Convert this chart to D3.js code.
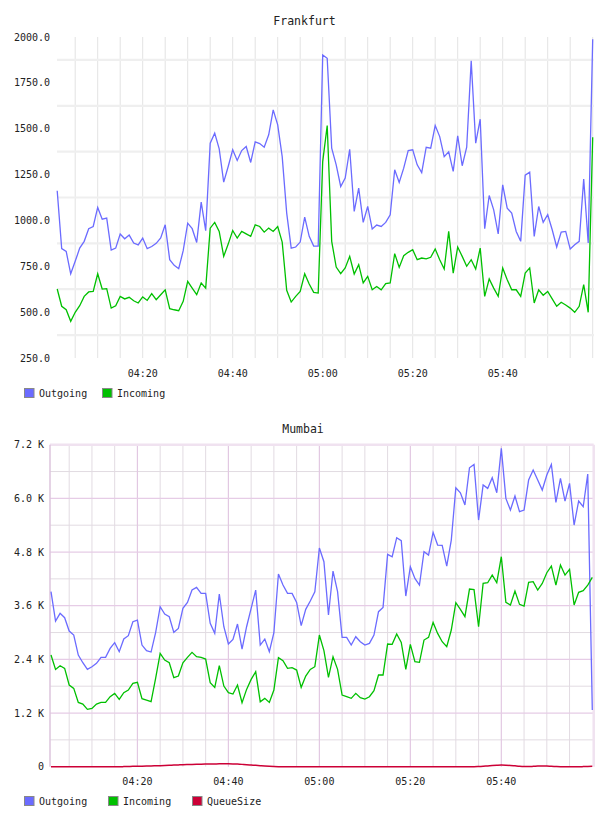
<!DOCTYPE html>
<html><head><meta charset="utf-8">
<script src="https://cdn.jsdelivr.net/npm/d3@7"></script>
<style>body{margin:0;background:#fff}svg{display:block}text{font-family:"DejaVu Sans Mono",monospace}</style>
</head><body>
<svg id="c" width="608" height="816"></svg>
<script>
// minutes after 04:00 (04:01 ... 06:00)
const minutes = d3.range(1, 121);
const timeTicks = [20, 40, 60, 80, 100];
const timeTickLabels = ["04:20", "04:40", "05:00", "05:20", "05:40"];

const fraOutgoing = [1162,846,831,709,777,849,886,955,967,1071,1007,1013,838,849,926,900,920,877,867,904,
 846,858,875,904,976,786,755,737,835,985,955,880,1100,944,1421,1476,1390,1209,1294,1385,
 1327,1381,1403,1316,1428,1419,1399,1467,1603,1521,1348,1040,849,855,882,1018,913,860,860,1902,
 1884,1394,1303,1185,1231,1388,1049,1176,989,1076,953,975,967,989,1031,1276,1207,1285,1381,1385,
 1303,1261,1399,1394,1517,1457,1348,1374,1267,1461,1298,1399,1870,1421,1552,955,1136,1058,927,1194,
 1067,1040,940,886,1247,1263,913,1076,989,1031,949,855,936,940,844,867,886,1225,877,1988];
const fraIncoming = [626,532,513,450,499,535,586,610,613,709,626,628,522,535,586,572,581,562,550,583,
 564,601,568,595,622,519,513,508,559,668,631,595,659,631,958,989,940,804,871,945,
 904,940,927,913,976,967,936,958,940,967,882,619,555,586,613,709,653,608,604,1321,
 1517,886,746,710,741,804,708,759,659,695,622,640,622,655,659,819,744,808,826,840,
 786,795,790,799,844,786,735,940,713,855,804,750,786,735,849,586,681,631,586,741,
 677,622,622,586,713,741,550,622,592,613,572,532,554,539,522,499,532,650,499,1454];
const fraYTicks = [250, 500, 750, 1000, 1250, 1500, 1750, 2000];

const mumOutgoing = [3913,3257,3428,3332,3033,2944,2497,2325,2176,2236,2310,2445,2445,2646,2773,2571,2855,2929,3242,3279,
 2720,2594,2564,2996,3577,3413,3354,3004,3093,3540,3674,3950,4010,3875,3875,3205,2981,3861,3130,2743,
 2847,3190,2631,3130,3540,3950,2720,2855,2571,2996,4308,4062,3875,3875,3674,3153,3518,3704,3913,4890,
 4584,3391,4375,3913,2892,2892,2720,2907,2795,2720,2758,2944,3466,3563,4748,4695,5120,5053,3816,4472,
 4211,4062,4807,4733,5239,4956,4949,4487,5068,6238,6126,5851,6685,6760,5515,6298,6223,6462,6126,7118,
 6000,5739,6052,5702,5739,6410,6633,6410,6186,6521,6760,5911,6447,5940,6335,5404,5940,5813,6544,1267];
const mumIncoming = [2497,2176,2258,2199,1826,1751,1438,1401,1282,1304,1401,1438,1438,1565,1640,1506,1655,1714,1863,1886,
 1520,1491,1453,1975,2534,2385,2325,1990,2027,2325,2445,2556,2459,2445,2407,1878,1774,2258,1803,1655,
 1625,1826,1431,1729,1952,2124,1453,1528,1438,1714,2437,2370,2199,2214,2161,1774,2027,2176,2236,2944,
 2594,1997,2459,2176,1602,1565,1528,1640,1543,1513,1565,1699,2050,2050,2743,2735,2966,2780,2176,2735,
 2348,2333,2832,2892,3227,2981,2795,2683,3056,3667,3518,3354,3972,3958,3130,4099,4114,4285,4114,4695,
 3674,3615,3928,3630,3592,4122,4136,3950,4099,4338,4487,4062,4509,4285,4412,3615,3898,3935,4062,4233];
const mumQueue = [0,0,0,0,0,0,0,0,0,0,0,0,0,0,0,0,2,5,8,10,
 12,15,18,20,24,28,32,36,40,44,47,50,53,56,58,60,62,64,65,64,
 62,58,52,46,38,30,22,15,9,4,1,0,0,0,0,0,0,0,0,0,
 0,0,0,0,0,0,0,0,0,0,0,0,0,0,0,0,0,0,0,0,
 0,0,0,0,0,0,0,0,0,0,0,0,0,0,4,10,18,26,32,36,
 34,28,20,12,6,4,8,14,16,14,8,3,0,0,0,0,0,2,5,8];
const mumYTicks = [0, 1200, 2400, 3600, 4800, 6000, 7200];

const C_OUT = "#6b6bff", C_IN = "#00c000", C_Q = "#cc0036";
const svg = d3.select("#c");

// ---------- Frankfurt ----------
(function(){
  const g = svg.append("g");
  const x = d3.scaleLinear().domain([1,120]).range([57.2,592.7]);
  const y = d3.scaleLinear().domain([250,2000]).range([358,37]);
  g.append("text").attr("x",304.5).attr("y",25).attr("text-anchor","middle")
    .attr("font-size","11.5px").attr("fill","#222").text("Frankfurt");
  // vertical grid every 5 min
  const vg = d3.range(5,121,5);
  g.selectAll(".vg").data(vg).join("line")
    .attr("x1",d=>x(d)).attr("x2",d=>x(d)).attr("y1",37).attr("y2",358)
    .attr("stroke","#e3e3e3").attr("stroke-width",1);
  // horizontal grid at midpoints
  const hg = fraYTicks.slice(0,-1).map(v=>v+125);
  g.selectAll(".hg").data(hg).join("line")
    .attr("x1",57).attr("x2",594).attr("y1",d=>y(d)).attr("y2",d=>y(d))
    .attr("stroke","#efefef").attr("stroke-width",2.2);
  // y labels
  g.selectAll(".yl").data(fraYTicks).join("text")
    .attr("x",50).attr("y",d=>y(d)).attr("dy","0.35em").attr("text-anchor","end")
    .attr("font-size","10px").attr("fill","#222").text(d=>d3.format(".1f")(d));
  g.selectAll(".xl").data(timeTicks).join("text")
    .attr("x",d=>x(d)).attr("y",377).attr("text-anchor","middle")
    .attr("font-size","10px").attr("fill","#222").text((d,i)=>timeTickLabels[i]);
  const line = vals => d3.line().x((d,i)=>x(minutes[i])).y(d=>y(d))(vals);
  g.append("path").attr("d",line(fraOutgoing)).attr("fill","none").attr("stroke",C_OUT).attr("stroke-width",1.3);
  g.append("path").attr("d",line(fraIncoming)).attr("fill","none").attr("stroke",C_IN).attr("stroke-width",1.3);
  const leg = [["Outgoing",C_OUT,24],["Incoming",C_IN,102]];
  leg.forEach(([t,c,lx])=>{
    g.append("rect").attr("x",lx+0.5).attr("y",388.5).attr("width",9.5).attr("height",9).attr("fill",c).attr("stroke","#888").attr("stroke-width",1);
    g.append("text").attr("x",lx+15).attr("y",396.5).attr("font-size","10px").attr("fill","#222").text(t);
  });
})();

// ---------- Mumbai ----------
(function(){
  const g = svg.append("g");
  const x = d3.scaleLinear().domain([1,120]).range([51,592.3]);
  const y = d3.scaleLinear().domain([0,7200]).range([766.7,444.7]);
  const L = 50, R = 593.7, T = 444.7, B = 766.7;
  g.append("text").attr("x",303).attr("y",433).attr("text-anchor","middle")
    .attr("font-size","11.5px").attr("fill","#222").text("Mumbai");
  // minor grid
  const vMinor = d3.range(5,120,5).filter(d=>d%20!==0);
  g.selectAll(".vmi").data(vMinor).join("line")
    .attr("x1",d=>x(d)).attr("x2",d=>x(d)).attr("y1",T).attr("y2",B)
    .attr("stroke","#e2dbe2").attr("stroke-width",1);
  const hMinor = mumYTicks.slice(0,-1).map(v=>v+600);
  g.selectAll(".hmi").data(hMinor).join("line")
    .attr("x1",L).attr("x2",R).attr("y1",d=>y(d)).attr("y2",d=>y(d))
    .attr("stroke","#e2dbe2").attr("stroke-width",1);
  // major grid
  g.selectAll(".vma").data(timeTicks).join("line")
    .attr("x1",d=>x(d)).attr("x2",d=>x(d)).attr("y1",T).attr("y2",B)
    .attr("stroke","#e2c8e2").attr("stroke-width",1.2);
  g.selectAll(".hma").data(mumYTicks.slice(1,-1)).join("line")
    .attr("x1",L).attr("x2",R).attr("y1",d=>y(d)).attr("y2",d=>y(d))
    .attr("stroke","#e6cce6").attr("stroke-width",1.2);
  // frame
  g.append("line").attr("x1",L).attr("x2",R).attr("y1",T).attr("y2",T).attr("stroke","#f0e2f0").attr("stroke-width",2.5);
  g.append("line").attr("x1",L).attr("x2",L).attr("y1",T).attr("y2",B).attr("stroke","#dcc4dc").attr("stroke-width",1.5);
  g.append("line").attr("x1",R).attr("x2",R).attr("y1",T).attr("y2",B).attr("stroke","#f0e2f0").attr("stroke-width",2.5);
  const fmt = d => d===0 ? "0" : d3.format(".1f")(d/1000)+" K";
  g.selectAll(".yl").data(mumYTicks).join("text")
    .attr("x",44).attr("y",d=>y(d)).attr("dy","0.35em").attr("text-anchor","end")
    .attr("font-size","10px").attr("fill","#222").text(fmt);
  g.selectAll(".xl").data(timeTicks).join("text")
    .attr("x",d=>x(d)).attr("y",785).attr("text-anchor","middle")
    .attr("font-size","10px").attr("fill","#222").text((d,i)=>timeTickLabels[i]);
  const line = vals => d3.line().x((d,i)=>x(minutes[i])).y(d=>y(d))(vals);
  g.append("path").attr("d",line(mumOutgoing)).attr("fill","none").attr("stroke",C_OUT).attr("stroke-width",1.3);
  g.append("path").attr("d",line(mumIncoming)).attr("fill","none").attr("stroke",C_IN).attr("stroke-width",1.3);
  g.append("path").attr("d",d3.line().curve(d3.curveMonotoneX).x((d,i)=>x(minutes[i])).y(d=>y(d))(mumQueue))
    .attr("fill","none").attr("stroke",C_Q).attr("stroke-width",1.5);
  const leg = [["Outgoing",C_OUT,24],["Incoming",C_IN,108],["QueueSize",C_Q,192]];
  leg.forEach(([t,c,lx])=>{
    g.append("rect").attr("x",lx+0.5).attr("y",796.5).attr("width",9.5).attr("height",9).attr("fill",c).attr("stroke","#888").attr("stroke-width",1);
    g.append("text").attr("x",lx+15).attr("y",804.5).attr("font-size","10px").attr("fill","#222").text(t);
  });
})();
</script>
</body></html>
